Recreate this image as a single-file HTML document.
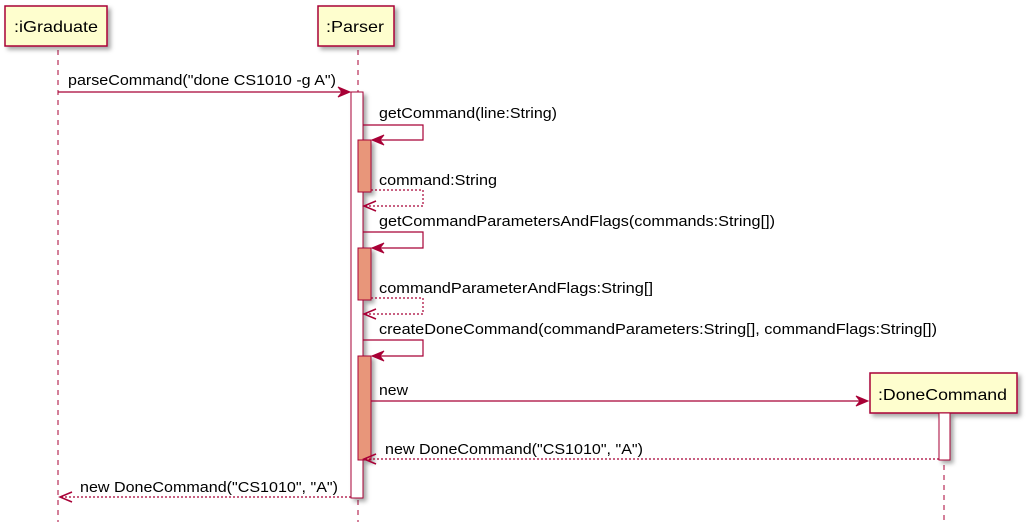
<!DOCTYPE html>
<html><head><style>body{margin:0;background:#fff}svg{display:block}text{font-family:"Liberation Sans",sans-serif;font-size:15px;fill:#000}</style></head><body>
<svg width="1031" height="527" viewBox="0 0 1031 527" xmlns="http://www.w3.org/2000/svg">
<defs><filter id="sh" x="-10%" y="-10%" width="130%" height="150%"><feDropShadow dx="3" dy="3" stdDeviation="2" flood-color="#000" flood-opacity="0.35"/></filter></defs>
<g stroke="#A80036" stroke-width="1" stroke-dasharray="5,5" fill="none">
<line x1="58" y1="50" x2="58" y2="522"/>
<line x1="358" y1="50" x2="358" y2="522"/>
<line x1="944" y1="415" x2="944" y2="522"/>
</g>
<g stroke="#A80036" stroke-width="1.5" fill="#FEFECE" filter="url(#sh)">
<rect x="5" y="6" width="102" height="40"/>
<rect x="318" y="6" width="76" height="40"/>
<rect x="870" y="373" width="147" height="40"/>
</g>
<text x="14" y="32" textLength="84" lengthAdjust="spacingAndGlyphs" style="font-size:16px">:iGraduate</text>
<text x="326" y="32" textLength="58" lengthAdjust="spacingAndGlyphs" style="font-size:16px">:Parser</text>
<text x="878" y="400" textLength="129" lengthAdjust="spacingAndGlyphs" style="font-size:16px">:DoneCommand</text>
<g stroke="#A80036" stroke-width="1" filter="url(#sh)">
<rect x="351" y="92" width="12" height="406" fill="#fff"/>
<rect x="358" y="140" width="13" height="52" fill="#E8967A"/>
<rect x="358" y="248" width="13" height="52" fill="#E8967A"/>
<rect x="358" y="356" width="13" height="104" fill="#E8967A"/>
<rect x="939" y="413" width="11" height="47" fill="#fff"/>
</g>
<g stroke="#A80036" stroke-width="1.2" fill="none">
<line x1="58" y1="92" x2="348" y2="92"/>
<polyline points="363,125 423,125 423,140 372,140"/>
<polyline points="371,190 423,190 423,206 364,206" stroke-dasharray="2,2"/>
<polyline points="363,232 423,232 423,248 372,248"/>
<polyline points="371,298 423,298 423,314 364,314" stroke-dasharray="2,2"/>
<polyline points="363,340 423,340 423,356 372,356"/>
<line x1="371" y1="401" x2="866" y2="401"/>
<line x1="939" y1="459" x2="364" y2="459" stroke-dasharray="2,2"/>
<line x1="351" y1="497" x2="60" y2="497" stroke-dasharray="2,2"/>
</g>
<g fill="#A80036" stroke="#A80036">
<polygon points="350,92 338,87 342,92 338,97"/>
<polygon points="372,140 384,135 380,140 384,145"/>
<polygon points="372,248 384,243 380,248 384,253"/>
<polygon points="372,356 384,351 380,356 384,361"/>
<polygon points="868,401 856,396 860,401 856,406"/>
</g>
<g stroke="#A80036" fill="none" stroke-width="1.5">
<polyline points="376,201 364,206 376,211"/>
<polyline points="376,309 364,314 376,319"/>
<polyline points="376,454 364,459 376,464"/>
<polyline points="72,492 60,497 72,502"/>
</g>
<text x="68" y="85" textLength="268" lengthAdjust="spacingAndGlyphs">parseCommand("done CS1010 -g A")</text>
<text x="379" y="118" textLength="178" lengthAdjust="spacingAndGlyphs">getCommand(line:String)</text>
<text x="379" y="185" textLength="118" lengthAdjust="spacingAndGlyphs">command:String</text>
<text x="379" y="226" textLength="396" lengthAdjust="spacingAndGlyphs">getCommandParametersAndFlags(commands:String[])</text>
<text x="379" y="293" textLength="274" lengthAdjust="spacingAndGlyphs">commandParameterAndFlags:String[]</text>
<text x="379" y="334" textLength="558" lengthAdjust="spacingAndGlyphs">createDoneCommand(commandParameters:String[], commandFlags:String[])</text>
<text x="379" y="395" textLength="29" lengthAdjust="spacingAndGlyphs">new</text>
<text x="385" y="454" textLength="258" lengthAdjust="spacingAndGlyphs">new DoneCommand("CS1010", "A")</text>
<text x="80" y="492" textLength="258" lengthAdjust="spacingAndGlyphs">new DoneCommand("CS1010", "A")</text>
</svg>
</body></html>
